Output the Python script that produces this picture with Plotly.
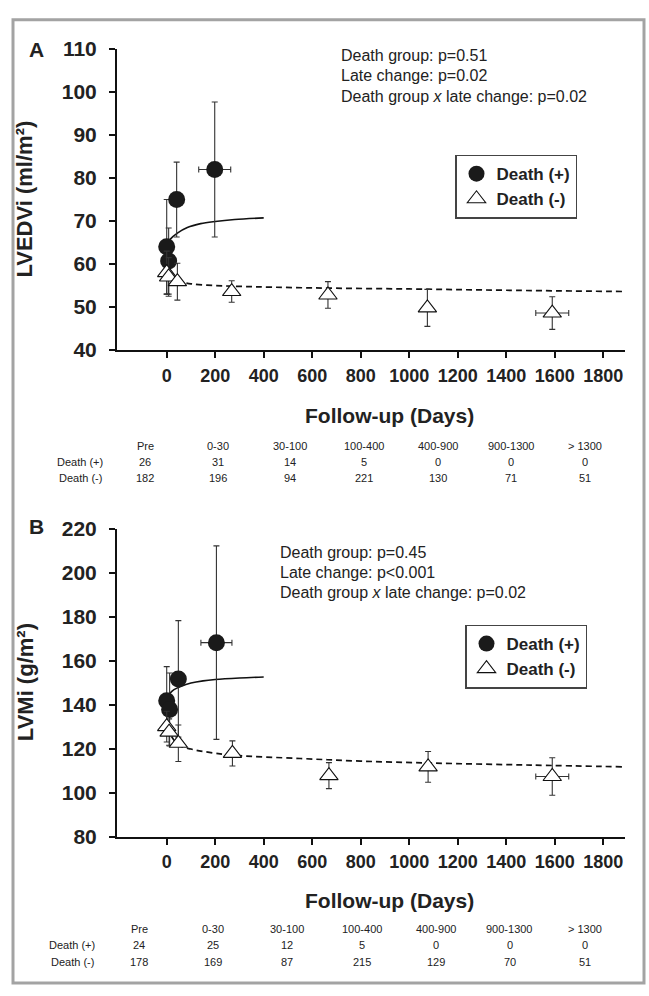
import plotly.graph_objects as go

W, H = 649, 996
FONT = "Liberation Sans, Arial, sans-serif"

# ---------------- data ----------------
# Panel A (LVEDVi)
A_plus_x = [0, 8, 41, 198]
A_plus_y = [64.0, 60.7, 75.0, 82.0]
A_plus_err = [11.0, 7.7, 8.7, 15.7]
A_plus_xerr = [0, 0, 0, 66]

A_minus_x = [0, 8, 44, 268, 665, 1075, 1590]
A_minus_y = [58.0, 57.0, 55.9, 53.6, 52.8, 49.8, 48.6]
A_minus_err = [5.0, 4.5, 4.3, 2.5, 3.1, 4.3, 3.8]
A_minus_xerr = [0, 0, 0, 0, 0, 0, 68]

A_fit_plus_x = [5, 15, 44, 85, 140, 200, 280, 400]
A_fit_plus_y = [64.9, 65.8, 67.2, 68.5, 69.4, 69.9, 70.35, 70.75]
A_fit_minus_x = [40, 100, 200, 300, 600, 1000, 1400, 1890]
A_fit_minus_y = [56.0, 55.4, 55.0, 54.8, 54.45, 54.2, 53.9, 53.6]

# Panel B (LVMi)
B_plus_x = [0, 12, 48, 205]
B_plus_y = [141.8, 137.8, 151.7, 168.2]
B_plus_err = [15.5, 16.6, 26.5, 44.0]
B_plus_xerr = [0, 0, 0, 64]

B_minus_x = [0, 10, 48, 271, 669, 1078, 1590]
B_minus_y = [130.0, 127.5, 122.4, 117.8, 107.7, 111.7, 107.3]
B_minus_err = [7.0, 6.0, 8.3, 5.7, 5.9, 7.0, 8.5]
B_minus_xerr = [0, 0, 0, 0, 0, 0, 68]

B_fit_plus_x = [10, 30, 60, 100, 150, 200, 300, 400]
B_fit_plus_y = [144.8, 146.8, 148.4, 149.8, 150.8, 151.4, 152.1, 152.6]
B_fit_minus_x = [20, 50, 100, 150, 275, 550, 800, 1100, 1500, 1890]
B_fit_minus_y = [125.5, 121.5, 119.8, 118.7, 117.0, 115.5, 114.3, 113.4, 112.5, 111.7]

# Tables
table_cols = ["Pre", "0-30", "30-100", "100-400", "400-900", "900-1300", "> 1300"]
A_tab_plus = [26, 31, 14, 5, 0, 0, 0]
A_tab_minus = [182, 196, 94, 221, 130, 71, 51]
B_tab_plus = [24, 25, 12, 5, 0, 0, 0]
B_tab_minus = [178, 169, 87, 215, 129, 70, 51]

A_stats = ["Death group: p=0.51", "Late change: p=0.02",
           "Death group <i>x</i> late change: p=0.02"]
B_stats = ["Death group: p=0.45", "Late change: p<0.001",
           "Death group <i>x</i> late change: p=0.02"]

x_ticks = [0, 200, 400, 600, 800, 1000, 1200, 1400, 1600, 1800]

# ---------------- helpers ----------------
def px(x):
    return x / W


def py(y):
    return 1 - y / H


fig = go.Figure()


def add_panel(xa, ya, legend, px_, py_, pe, pxe, mx, my, me, mxe, fpx, fpy, fmx, fmy):
    # fitted curves
    fig.add_trace(go.Scatter(x=fpx, y=fpy, mode="lines", line=dict(color="#111", width=1.6, shape="spline"),
                             showlegend=False, xaxis=xa, yaxis=ya, hoverinfo="skip"))
    fig.add_trace(go.Scatter(x=fmx, y=fmy, mode="lines",
                             line=dict(color="#111", width=1.7, dash="6px,4px", shape="spline"),
                             showlegend=False, xaxis=xa, yaxis=ya, hoverinfo="skip"))
    fig.add_trace(go.Scatter(
        x=px_, y=py_, mode="markers", name="Death (+)", legend=legend,
        marker=dict(symbol="circle", size=17, color="#1a1a1a", line=dict(width=0)),
        error_y=dict(type="data", array=pe, visible=True, color="#333", thickness=1.1, width=3),
        error_x=dict(type="data", array=pxe, visible=True, color="#333", thickness=1.1, width=3),
        xaxis=xa, yaxis=ya))
    fig.add_trace(go.Scatter(
        x=mx, y=my, mode="markers", name="Death (-)", legend=legend,
        marker=dict(symbol="triangle-up", size=16, color="white", line=dict(width=1.1, color="#111")),
        error_y=dict(type="data", array=me, visible=True, color="#333", thickness=1.1, width=3),
        error_x=dict(type="data", array=mxe, visible=True, color="#333", thickness=1.1, width=3),
        xaxis=xa, yaxis=ya))


add_panel("x", "y", "legend", A_plus_x, A_plus_y, A_plus_err, A_plus_xerr,
          A_minus_x, A_minus_y, A_minus_err, A_minus_xerr,
          A_fit_plus_x, A_fit_plus_y, A_fit_minus_x, A_fit_minus_y)
add_panel("x2", "y2", "legend2", B_plus_x, B_plus_y, B_plus_err, B_plus_xerr,
          B_minus_x, B_minus_y, B_minus_err, B_minus_xerr,
          B_fit_plus_x, B_fit_plus_y, B_fit_minus_x, B_fit_minus_y)

xrange = [-205, 1890]
xaxis_common = dict(range=xrange, tickvals=x_ticks, showline=True, linecolor="#111", linewidth=2,
                    ticks="outside", ticklen=6, tickwidth=1.5, tickcolor="#111", showgrid=False,
                    zeroline=False, tickfont=dict(family=FONT, size=18, color="#222", weight="bold"),
                    ticklabelstandoff=2)
yaxis_common = dict(showline=True, linecolor="#111", linewidth=2, ticks="outside", ticklen=6,
                    tickwidth=1.5, tickcolor="#111", showgrid=False, zeroline=False,
                    tickfont=dict(family=FONT, size=21, color="#222", weight="bold"),
                    ticklabelstandoff=8)

xl, xr = 117, 625
fig.update_layout(
    width=W, height=H, margin=dict(l=0, r=0, t=0, b=0),
    paper_bgcolor="white", plot_bgcolor="white",
    xaxis=dict(domain=[px(xl), px(xr)], anchor="y", **xaxis_common),
    yaxis=dict(domain=[py(346), py(38)], anchor="x", range=[40, 110], dtick=10, **yaxis_common),
    xaxis2=dict(domain=[px(xl), px(xr)], anchor="y2", **xaxis_common),
    yaxis2=dict(domain=[py(844), py(529)], anchor="x2", range=[80, 220], dtick=20, **yaxis_common),
    legend=dict(x=px(455), y=py(146), xanchor="left", yanchor="top", bgcolor="white",
                bordercolor="#444", borderwidth=1.5,
                font=dict(family=FONT, size=17, color="#222", weight="bold")),
    legend2=dict(x=px(465), y=py(627), xanchor="left", yanchor="top", bgcolor="white",
                 bordercolor="#444", borderwidth=1.5,
                 font=dict(family=FONT, size=17, color="#222", weight="bold")),
    showlegend=True,
)

ann = []


def text(x, y, s, size, bold=False, anchor="center", angle=0):
    ann.append(dict(x=px(x), y=py(y), xref="paper", yref="paper", text=s, showarrow=False,
                    xanchor=anchor, yanchor="middle", textangle=angle,
                    font=dict(family=FONT, size=size, color="#222", weight="bold" if bold else "normal")))


# panel letters & y titles
text(36, 38, "A", 21, bold=True)
text(36, 527, "B", 21, bold=True)
text(25, 192, "LVEDVi (ml/m²)", 22, bold=True, angle=-90)
text(25, 686, "LVMi (g/m²)", 22, bold=True, angle=-90)
# x titles
text(389, 413, "Follow-up (Days)", 21, bold=True)
text(389, 910, "Follow-up (Days)", 21, bold=True)

# statistics
for i, s in enumerate(A_stats):
    text(339, 45 + i * 20.5, s, 16, anchor="left")
for i, s in enumerate(B_stats):
    text(278, 553 + i * 20.5, s, 16, anchor="left")

# tables
A_colx = [145, 218, 290, 364, 438, 511, 585]
B_colx = [139, 213, 287, 362, 436, 510, 585]
for colx, lab_x, y0, plus, minus in [(A_colx, 80, 444, A_tab_plus, A_tab_minus),
                                      (B_colx, 72, 939, B_tab_plus, B_tab_minus)]:
    for cx, c, p, m in zip(colx, table_cols, plus, minus):
        text(cx, y0, c, 11)
        text(cx, y0 + 16.5, str(p), 11)
        text(cx, y0 + 33, str(m), 11)
    text(lab_x, y0 + 16.5, "Death (+)", 11)
    text(lab_x, y0 + 33, "Death (-)", 11)

fig.update_layout(annotations=ann)

# outer frame
fig.add_shape(type="rect", xref="paper", yref="paper", x0=px(13), x1=px(644), y0=py(994), y1=py(8),
              line=dict(color="#a3a3a3", width=3), fillcolor="rgba(0,0,0,0)", layer="below")

fig.write_html("out.html")
